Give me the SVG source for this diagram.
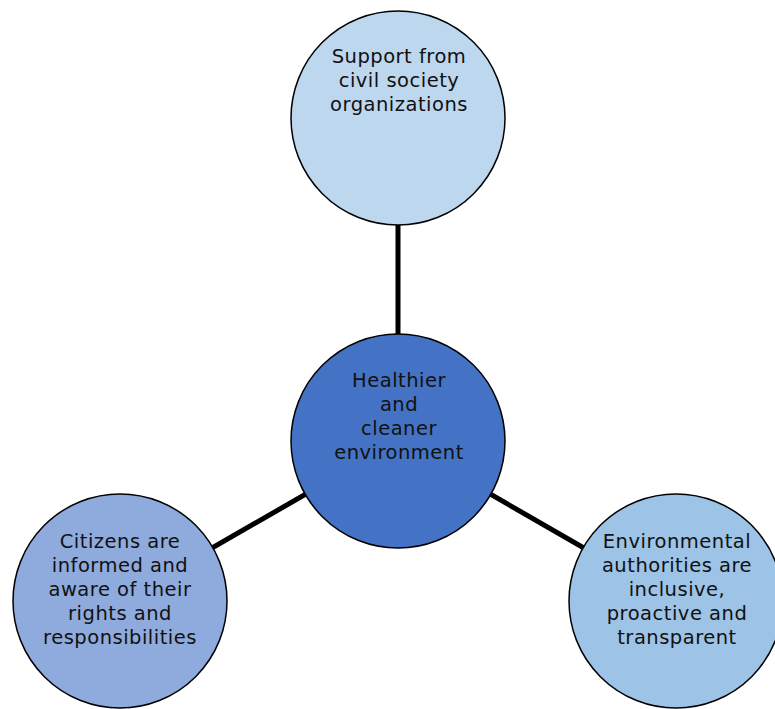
<svg xmlns="http://www.w3.org/2000/svg" width="775" height="709" viewBox="0 0 775 709">
<style>
.n{stroke:#000;stroke-width:1.5}
.t{font-family:"DejaVu Sans",Verdana,sans-serif;font-size:19.5px;letter-spacing:0.5px;fill:#111;text-anchor:middle}
.c{stroke:#000;stroke-width:5;fill:none}
</style>
<rect width="775" height="709" fill="#fff"/>
<g id="connectors">
<line class="c" x1="398" y1="118" x2="398" y2="441"/>
<line class="c" x1="398" y1="441" x2="120" y2="601"/>
<line class="c" x1="398" y1="441" x2="676" y2="601"/>
</g>
<g id="top">
<circle class="n" cx="398" cy="118" r="107" fill="#BDD7EE"/>
<text class="t" x="399" y="63">Support from</text>
<text class="t" x="399" y="87">civil society</text>
<text class="t" x="399" y="111">organizations</text>
</g>
<g id="center">
<circle class="n" cx="398" cy="441" r="107" fill="#4472C4"/>
<text class="t" x="399" y="387">Healthier</text>
<text class="t" x="399" y="411">and</text>
<text class="t" x="399" y="435">cleaner</text>
<text class="t" x="399" y="459">environment</text>
</g>
<g id="left">
<circle class="n" cx="120" cy="601" r="107" fill="#8FAADC"/>
<text class="t" x="120" y="548">Citizens are</text>
<text class="t" x="120" y="572">informed and</text>
<text class="t" x="120" y="596">aware of their</text>
<text class="t" x="120" y="620">rights and</text>
<text class="t" x="120" y="644">responsibilities</text>
</g>
<g id="right">
<circle class="n" cx="676" cy="601" r="107" fill="#9DC3E6"/>
<text class="t" x="677" y="548">Environmental</text>
<text class="t" x="677" y="572">authorities are</text>
<text class="t" x="677" y="596">inclusive,</text>
<text class="t" x="677" y="620">proactive and</text>
<text class="t" x="677" y="644">transparent</text>
</g>
</svg>
